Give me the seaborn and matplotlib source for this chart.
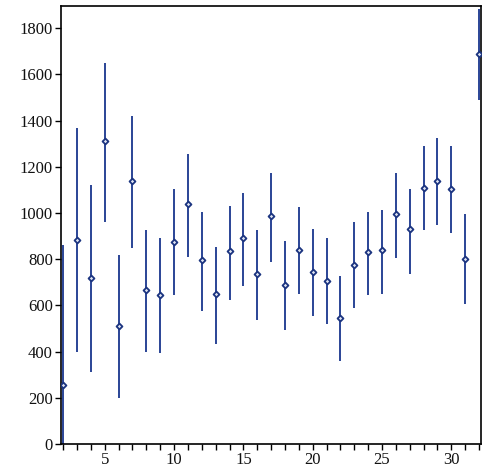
import numpy as np
import pandas as pd
import matplotlib
matplotlib.use("Agg")
import matplotlib.pyplot as plt
from matplotlib.ticker import MultipleLocator
import seaborn as sns

x = list(range(2, 33))
center = [255, 885, 720, 1310, 510, 1140, 665, 645, 875, 1040, 795, 650, 835, 890, 735,
          985, 690, 840, 745, 705, 545, 775, 830, 840, 995, 930, 1110, 1140, 1105, 800, 1690]
lower = [-20, 400, 310, 960, 200, 850, 400, 395, 645, 810, 575, 435, 625, 685, 535,
         790, 493, 650, 555, 520, 358, 590, 645, 650, 805, 735, 925, 950, 915, 605, 1488]
upper = [860, 1370, 1120, 1650, 820, 1420, 925, 890, 1105, 1255, 1005, 855, 1030, 1085, 925,
         1175, 878, 1025, 930, 890, 728, 960, 1005, 1015, 1175, 1105, 1290, 1325, 1290, 995, 1882]

df = pd.DataFrame({"x": x, "y": center, "lo": lower, "hi": upper})

sns.set_theme(style="white")
plt.rcParams["font.family"] = ["Liberation Serif", "DejaVu Serif"]

fig = plt.figure(figsize=(4.85, 4.74), dpi=100)
ax = fig.add_axes([0.126, 0.063, 0.866, 0.924])

line_color = "#2a4496"
ax.vlines(df["x"], df["lo"], df["hi"], color=line_color, linewidth=1.4, zorder=2)
sns.scatterplot(data=df, x="x", y="y", ax=ax, marker="D", s=9,
                facecolor="#dfe4f2", edgecolor="#1c3580", linewidth=1.3, zorder=3)

ax.set_xlim(1.85, 32.15)
ax.set_ylim(0, 1895)
ax.xaxis.set_major_locator(MultipleLocator(5))
ax.xaxis.set_minor_locator(MultipleLocator(1))
ax.yaxis.set_major_locator(MultipleLocator(200))
ax.set_xlabel("")
ax.set_ylabel("")
for s in ax.spines.values():
    s.set_color("black")
    s.set_linewidth(1.2)
ax.tick_params(axis="both", which="both", direction="out", length=4, width=1.0,
               color="black", labelsize=12, labelcolor="#111111", pad=2)
ax.tick_params(axis="x", which="both", bottom=True)
ax.tick_params(axis="y", which="both", left=True)

fig.savefig("out.png", dpi=100)
